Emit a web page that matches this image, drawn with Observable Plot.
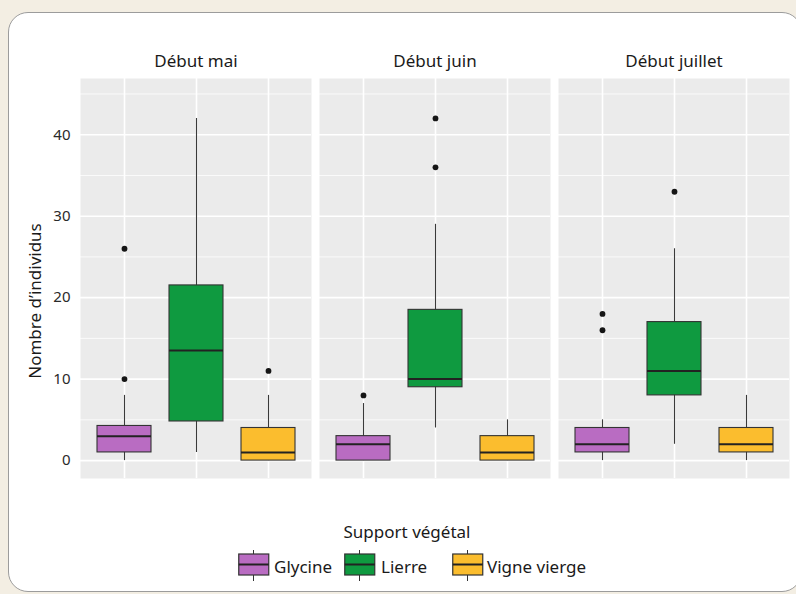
<!DOCTYPE html>
<html>
<head>
<meta charset="utf-8">
<script src="https://cdn.jsdelivr.net/npm/d3@7"></script>
<script src="https://cdn.jsdelivr.net/npm/@observablehq/plot@0.6"></script>
<style>
  html, body { margin: 0; padding: 0; }
  body { width: 796px; height: 594px; overflow: hidden; position: relative;
         background: #f3eee3; font-family: "Noto Sans", sans-serif; }
  #card { position: absolute; left: 8px; top: 12px; width: 794px; height: 580px;
          background: #ffffff; border: 1.5px solid #9c9c9c; border-radius: 20px; box-sizing: border-box; }
  #chart { position: absolute; left: 0; top: 0; }
  #ytitle { position: absolute; left: 34px; top: 301px; transform: translate(-50%, -50%) rotate(-90deg);
            font-size: 17px; color: #1a1a1a; white-space: nowrap; }
  #legtitle { position: absolute; left: 407px; top: 531px; transform: translate(-50%, -50%);
              font-size: 17px; color: #1a1a1a; white-space: nowrap; }
  .legkey { position: absolute; top: 550px; }
  .leglab { position: absolute; top: 566px; transform: translateY(-50%); font-size: 17px; color: #1a1a1a; white-space: nowrap; }
</style>
</head>
<body>
<div id="card"></div>
<div id="chart"></div>
<div id="ytitle">Nombre d’individus</div>
<div id="legtitle">Support végétal</div>
<script>
// ---- data ----
const periods = ["Début mai", "Début juin", "Début juillet"];
const supports = ["Glycine", "Lierre", "Vigne vierge"];
const colors = ["#b96cc2", "#0f9a40", "#fbbd2e"];
// rows: period, columns: support
const whiskerLow  = [[0, 1, 0],    [0, 4, 0],    [0, 2, 0]];
const q1          = [[1, 4.8, 0],  [0, 9, 0],    [1, 8, 1]];
const medians     = [[3, 13.5, 1], [2, 10, 1],   [2, 11, 2]];
const q3          = [[4.25, 21.5, 4], [3, 18.5, 3], [4, 17, 4]];
const whiskerHigh = [[8, 42, 8],   [7, 29, 5],   [5, 26, 8]];
// outliers
const outPeriod  = ["Début mai", "Début mai", "Début mai", "Début juin", "Début juin", "Début juin", "Début juillet", "Début juillet", "Début juillet"];
const outSupport = ["Glycine", "Glycine", "Vigne vierge", "Glycine", "Lierre", "Lierre", "Glycine", "Glycine", "Lierre"];
const outValue   = [10, 26, 11, 8, 36, 42, 16, 18, 33];
const yTicks = [0, 10, 20, 30, 40];
const yMinor = [5, 15, 25, 35, 45];

// ---- tables ----
const rows = periods.flatMap((p, i) => supports.map((s, j) => ({
  period: p, support: s,
  lo: whiskerLow[i][j], q1: q1[i][j], med: medians[i][j], q3: q3[i][j], hi: whiskerHigh[i][j]
})));
const outliers = outValue.map((v, k) => ({period: outPeriod[k], support: outSupport[k], value: v}));

const plot = Plot.plot({
  width: 796,
  height: 480,
  marginLeft: 80,
  marginRight: 6,
  marginTop: 78,
  marginBottom: 2,
  style: {fontFamily: "'Noto Sans', sans-serif", background: "transparent", overflow: "visible"},
  fx: {domain: periods, paddingInner: 0.0324, paddingOuter: 0, axis: null, label: null},
  x: {domain: supports, paddingInner: 0.25, paddingOuter: 0.225, axis: null},
  y: {domain: [-2.2, 46.9], axis: null},
  color: {domain: supports, range: colors},
  marks: [
    Plot.frame({fill: "#ebebeb", stroke: null}),
    Plot.ruleY(yMinor, {stroke: "#ffffff", strokeWidth: 0.8}),
    Plot.ruleY(yTicks, {stroke: "#ffffff", strokeWidth: 1.6}),
    Plot.ruleX(supports, {x: d => d, stroke: "#ffffff", strokeWidth: 1.6}),
    Plot.ruleX(rows, {fx: "period", x: "support", y1: "lo", y2: "hi", stroke: "#3a3a3a", strokeWidth: 1.1}),
    Plot.barY(rows, {fx: "period", x: "support", y1: "q1", y2: "q3", fill: "support", stroke: "#333333", strokeWidth: 1.1}),
    Plot.tickY(rows, {fx: "period", x: "support", y: "med", stroke: "#222222", strokeWidth: 2}),
    Plot.dot(outliers, {fx: "period", x: "support", y: "value", r: 2.9, fill: "#151515", stroke: null}),
    Plot.axisY({ticks: yTicks, tickSize: 0, tickPadding: 10, label: null, fontSize: 15, fill: "#2a2a2a"}),
    Plot.axisFx({anchor: "top", tickSize: 0, tickPadding: 12, label: null, fontSize: 17, fill: "#1a1a1a"})
  ]
});
document.getElementById("chart").appendChild(plot);

// ---- legend ----
const keyX = [238, 344, 452];
const labX = [274, 381, 487];
supports.forEach((s, i) => {
  const svg = d3.select("body").append("svg")
    .attr("class", "legkey").attr("width", 32).attr("height", 31)
    .style("left", keyX[i] + "px");
  svg.append("line").attr("x1", 15.5).attr("x2", 15.5).attr("y1", 0).attr("y2", 31)
    .attr("stroke", "#333").attr("stroke-width", 1);
  svg.append("rect").attr("x", 0.75).attr("y", 4).attr("width", 30).attr("height", 21)
    .attr("fill", colors[i]).attr("stroke", "#333").attr("stroke-width", 1.2);
  svg.append("line").attr("x1", 0.75).attr("x2", 30.75).attr("y1", 14.5).attr("y2", 14.5)
    .attr("stroke", "#222").attr("stroke-width", 2);
  d3.select("body").append("div").attr("class", "leglab")
    .style("left", labX[i] + "px").text(s);
});
</script>
</body>
</html>
